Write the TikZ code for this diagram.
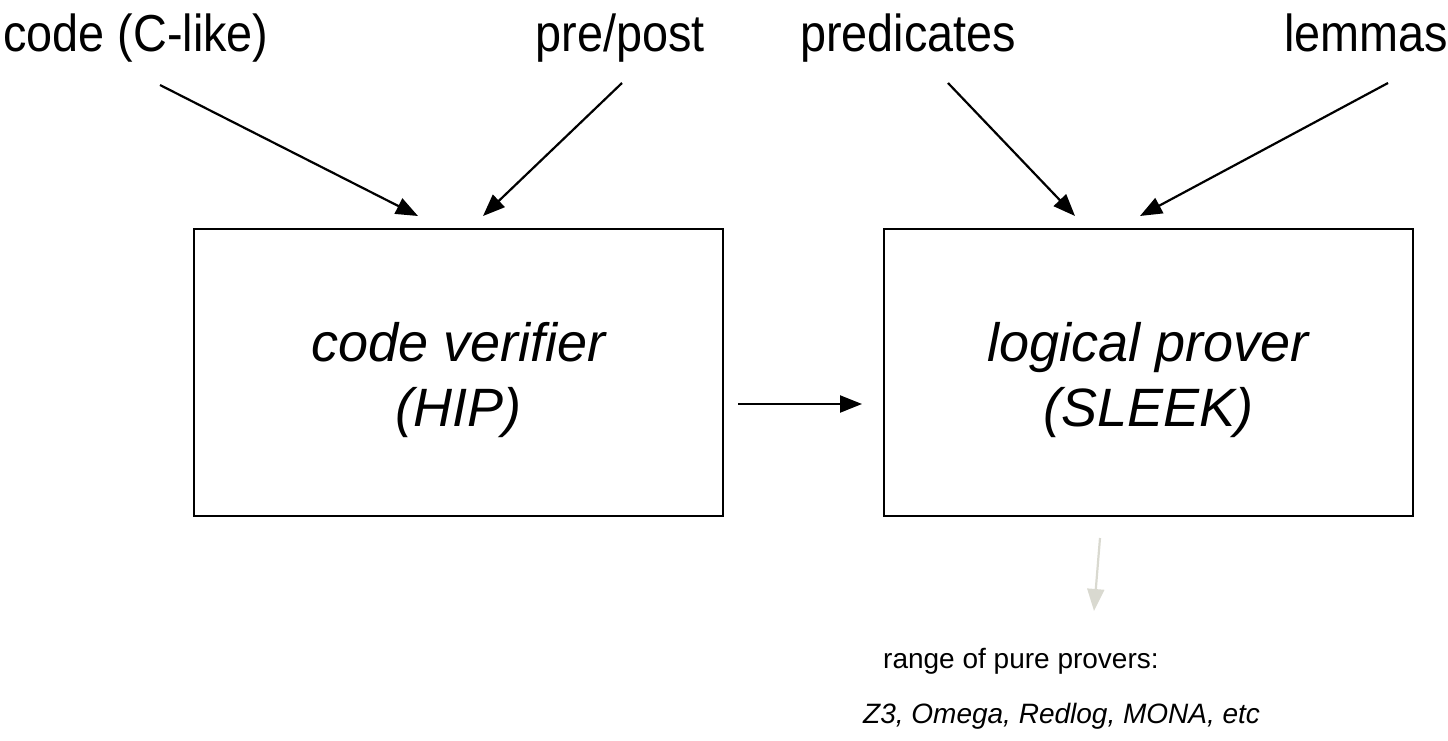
\documentclass[tikz,border=0pt]{standalone}
\usepackage{fontspec}
\setmainfont{Liberation Sans}
\usetikzlibrary{arrows.meta}
\begin{document}
\begin{tikzpicture}[x=1pt,y=-1pt,
  lab/.style={anchor=base, inner sep=0pt, font=\fontsize{52}{60}\selectfont},
  box/.style={draw=black, line width=2pt, minimum width=529pt, minimum height=287pt, anchor=north west, inner sep=0pt},
  boxtxt/.style={align=center, font=\fontsize{54}{65}\selectfont\itshape, inner sep=0pt},
  arr/.style={line width=2.2pt, -{Triangle[length=22pt,width=17pt]}},
  garr/.style={line width=2.2pt, draw={rgb,255:red,217;green,217;blue,208}, -{Triangle[length=22pt,width=17pt,fill={rgb,255:red,217;green,217;blue,208}]}},
  small/.style={anchor=base west, inner sep=0pt, font=\fontsize{28}{34}\selectfont}]
\useasboundingbox (0,0) rectangle (1448,741);
% top labels
\node[lab] (code) at (136,52) {\scalebox{0.9}[1]{code (C-like)}};
\node[lab] (pre) at (620,52) {\scalebox{0.9}[1]{pre/post}};
\node[lab] (pred) at (908,52) {\scalebox{0.9}[1]{predicates}};
\node[lab] (lem) at (1366,52) {\scalebox{0.9}[1]{lemmas}};
% boxes
\node[box] (hip) at (193,228) {};
\node[box] (sleek) at (883,228) {};
\node[boxtxt] at ([yshift=-8pt]hip.center) {code verifier\\(HIP)};
\node[boxtxt] at ([yshift=-8pt]sleek.center) {logical prover\\(SLEEK)};
% arrow endpoints
\coordinate (c1) at (160,85);  \coordinate (c2) at (418,216);
\coordinate (p1) at (622,83);  \coordinate (p2) at (483,216);
\coordinate (d1) at (948,83);  \coordinate (d2) at (1075,216);
\coordinate (l1) at (1388,83); \coordinate (l2) at (1140,216);
\coordinate (m1) at (738,404); \coordinate (m2) at (862,404);
\coordinate (g1) at (1100,538); \coordinate (g2) at (1094,611);
\draw[arr] (c1) -- (c2);
\draw[arr] (p1) -- (p2);
\draw[arr] (d1) -- (d2);
\draw[arr] (l1) -- (l2);
\draw[arr] (m1) -- (m2);
\draw[garr] (g1) -- (g2);
% bottom text
\node[small] (range) at (883,668) {range of pure provers:};
\node[small] (list) at (863,723) {\itshape Z3, Omega, Redlog, MONA, etc};
\end{tikzpicture}
\end{document}
